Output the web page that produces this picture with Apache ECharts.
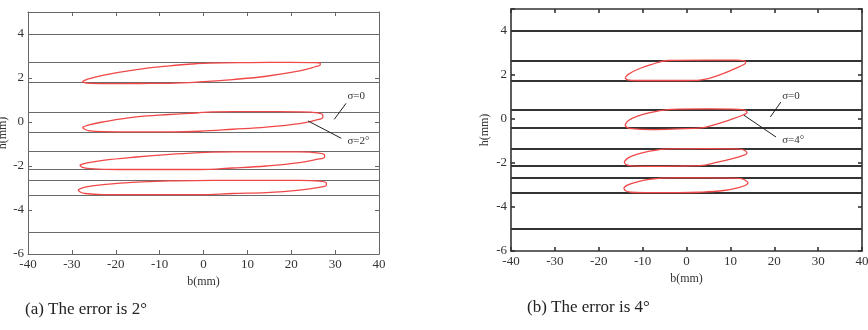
<!DOCTYPE html>
<html>
<head>
<meta charset="utf-8">
<script src="https://cdn.jsdelivr.net/npm/echarts@6/dist/echarts.min.js"></script>
<style>
  html, body { margin: 0; padding: 0; background: #fff; }
  #container { width: 868px; height: 330px; }
</style>
</head>
<body>
<div id="container"></div>
<script>
// x / y tick values
var xTicks = [-40, -30, -20, -10, 0, 10, 20, 30, 40];
var yTicks = [-6, -4, -2, 0, 2, 4];

// ideal tooth lines (sigma = 0)
var linesA = [4, 2.7, 1.8, 0.45, -0.45, -1.35, -2.15, -2.65, -3.35, -5];
var linesB = [4, 2.67, 1.75, 0.44, -0.41, -1.35, -2.14, -2.68, -3.35, -5];

// closed contours (a), error 2 deg
var ellA1 = [[-27.6,1.84],[-27.2,1.79],[-25.9,1.76],[-21,1.74],[-14.6,1.75],[-7.7,1.76],[-0.9,1.82],[6.7,1.93],[14.3,2.08],[21.9,2.32],[25.3,2.5],[26.6,2.6],[26.6,2.67],[25.3,2.7],[19.6,2.71],[10.5,2.7],[1.4,2.68],[-1.6,2.65],[-7.7,2.55],[-15.3,2.38],[-23,2.12],[-26.4,1.95],[-27.6,1.84]];
var ellA2 = [[-27.6,-0.24],[-27.1,-0.33],[-26,-0.4],[-23,-0.44],[-15,-0.45],[-7,-0.45],[-0.9,-0.42],[6.7,-0.33],[14.3,-0.23],[21.9,-0.07],[25.5,0.08],[27.2,0.2],[27.2,0.3],[26,0.41],[22,0.46],[12,0.47],[2,0.46],[-1.6,0.41],[-7.7,0.34],[-15.3,0.23],[-23,0],[-26.3,-0.14],[-27.6,-0.24]];
var ellA3 = [[-28.2,-1.96],[-27.7,-2.05],[-26.5,-2.11],[-23,-2.15],[-15,-2.16],[-7,-2.16],[-0.9,-2.16],[6.7,-2.09],[14.3,-2],[21.9,-1.85],[25.8,-1.7],[27.6,-1.6],[27.6,-1.5],[26.3,-1.41],[22,-1.36],[12,-1.36],[2,-1.37],[-0.9,-1.39],[-7.7,-1.47],[-15.3,-1.59],[-22.9,-1.74],[-26.8,-1.87],[-28.2,-1.96]];
var ellA4 = [[-28.6,-3.08],[-28.1,-3.18],[-27,-3.25],[-23,-3.3],[-15,-3.3],[-7,-3.3],[-0.9,-3.3],[6.7,-3.25],[14.3,-3.21],[21.9,-3.1],[26,-2.98],[28,-2.88],[28,-2.78],[26.5,-2.69],[22,-2.65],[12,-2.65],[2,-2.65],[-7.7,-2.68],[-15.3,-2.73],[-22.9,-2.85],[-27,-2.96],[-28.6,-3.08]];

// closed contours (b), error 4 deg
var ellB1 = [[-14,1.88],[-13.6,1.79],[-12.6,1.76],[-10,1.75],[-4,1.75],[2.5,1.76],[5,1.84],[7.1,1.97],[10,2.2],[12.6,2.43],[13.5,2.56],[13.2,2.64],[11.3,2.68],[5,2.68],[-4.3,2.66],[-8.1,2.47],[-11.2,2.25],[-13.2,2.04],[-14,1.88]];
var ellB2 = [[-14,-0.27],[-13.6,-0.38],[-12.4,-0.44],[-8.1,-0.48],[-2,-0.45],[3.5,-0.4],[7.1,-0.22],[10,-0.03],[12.6,0.16],[13.8,0.3],[13.2,0.4],[11.9,0.44],[5,0.46],[-3.3,0.44],[-8.1,0.3],[-11.2,0.13],[-13.3,-0.08],[-14,-0.27]];
var ellB3 = [[-14.2,-1.96],[-13.8,-2.07],[-12.6,-2.13],[-8,-2.15],[-2,-2.14],[3,-2.12],[7.1,-1.96],[10.5,-1.8],[12.8,-1.66],[13.8,-1.56],[13.3,-1.43],[12,-1.37],[5,-1.35],[-4.3,-1.36],[-8.1,-1.45],[-11.2,-1.6],[-13.4,-1.78],[-14.2,-1.96]];
var ellB4 = [[-14.3,-3.14],[-13.9,-3.26],[-12.6,-3.33],[-8,-3.35],[-2,-3.35],[3,-3.33],[8.5,-3.25],[11.8,-3.12],[13.6,-3.0],[14,-2.9],[13.2,-2.76],[12,-2.7],[5,-2.68],[-3,-2.68],[-8.5,-2.74],[-11.6,-2.88],[-13.6,-3.02],[-14.3,-3.14]];

// annotation arrows: text position, arrow start, arrow end
var noteA0 = {text: 'σ=0', at: [32.8, 1.17], from: [32.5, 0.85], to: [29.8, 0.12]};
var noteA1 = {text: 'σ=2°', at: [32.8, -0.86], from: [31.4, -0.74], to: [23.8, 0.05]};
var noteB0 = {text: 'σ=0', at: [21.8, 1.03], from: [21.5, 0.77], to: [19.1, 0.09]};
var noteB1 = {text: 'σ=4°', at: [21.8, -0.97], from: [20.4, -0.82], to: [13.1, 0.17]};

var captions = ['(a) The error is 2°', '(b) The error is 4°'];

var serif = 'Liberation Serif';
var dom = document.getElementById('container');
var myChart = echarts.init(dom, null, {renderer: 'canvas'});

function makeAxes(gi, col, w) {
  var x = [
    {
      type: 'value', gridIndex: gi, min: xTicks[0], max: xTicks[xTicks.length - 1], interval: 10,
      name: 'b(mm)', nameLocation: 'middle', nameGap: 19,
      nameTextStyle: {fontFamily: serif, fontSize: 12, color: '#333'},
      axisLine: {show: true, onZero: false, lineStyle: {color: col, width: w}},
      axisTick: {show: true, inside: true, length: 4, lineStyle: {color: col, width: w}},
      axisLabel: {fontFamily: serif, fontSize: 13, color: '#333', margin: 4},
      splitLine: {show: false}
    },
    {
      type: 'value', gridIndex: gi, position: 'top', min: -40, max: 40, interval: 10,
      axisLine: {show: true, onZero: false, lineStyle: {color: col, width: w}},
      axisTick: {show: true, inside: true, length: 4, lineStyle: {color: col, width: w}},
      axisLabel: {show: false},
      splitLine: {show: false}
    }
  ];
  var y = [
    {
      type: 'value', gridIndex: gi, min: yTicks[0], max: 5, interval: 2,
      name: 'h(mm)', nameLocation: 'middle', nameGap: gi === 0 ? 18 : 20,
      nameTextStyle: {fontFamily: serif, fontSize: 12, color: '#333'},
      axisLine: {show: true, onZero: false, lineStyle: {color: col, width: w}},
      axisTick: {show: true, inside: true, length: 4, lineStyle: {color: col, width: w}},
      axisLabel: {fontFamily: serif, fontSize: 13, color: '#333', margin: 4,
        formatter: function (v) { return v > 4 ? '' : v; }},
      splitLine: {show: false}
    },
    {
      type: 'value', gridIndex: gi, position: 'right', min: -6, max: 5, interval: 2,
      axisLine: {show: true, onZero: false, lineStyle: {color: col, width: w}},
      axisTick: {show: true, inside: true, length: 4, lineStyle: {color: col, width: w}},
      axisLabel: {show: false},
      splitLine: {show: false}
    }
  ];
  return {x: x, y: y};
}

function lineSeries(gi, lines, col, w) {
  return {
    type: 'line', xAxisIndex: gi * 2, yAxisIndex: gi * 2, data: [], silent: true, z: 1,
    markLine: {
      silent: true, symbol: ['none', 'none'], animation: false, z: 1,
      label: {show: false},
      lineStyle: {type: 'solid', color: col, width: w},
      data: lines.map(function (v) { return {yAxis: v}; })
    }
  };
}

function ellSeries(gi, pts) {
  return {
    type: 'line', xAxisIndex: gi * 2, yAxisIndex: gi * 2, data: pts, z: 6,
    smooth: 0.4, showSymbol: false, silent: true,
    lineStyle: {color: '#f04848', width: 1.3}
  };
}

function noteSeries(gi, notes) {
  return {
    type: 'line', xAxisIndex: gi * 2, yAxisIndex: gi * 2, data: [], z: 7, silent: true,
    markLine: {
      silent: true, animation: false, symbolSize: [0, 7], z: 7,
      label: {show: false},
      lineStyle: {type: 'solid', color: '#222', width: 1},
      data: notes.map(function (n) {
        return [{coord: n.from, symbol: 'none'}, {coord: n.to, symbol: 'arrow'}];
      })
    },
    markPoint: {
      silent: true, animation: false, symbol: 'circle', symbolSize: 0, z: 7,
      label: {show: true, position: 'right', distance: 0, fontFamily: serif, fontSize: 11, color: '#333',
        formatter: function (p) { return p.name; }},
      data: notes.map(function (n) { return {name: n.text, coord: n.at}; })
    }
  };
}

var axA = makeAxes(0, '#666', 1);
var axB = makeAxes(1, '#333', 1.6);

var option = {
  backgroundColor: '#fff',
  animation: false,
  grid: [
    {left: 28, top: 12, width: 351, height: 242, outerBoundsMode: 'none', containLabel: false},
    {left: 511, top: 9, width: 351, height: 242, outerBoundsMode: 'none', containLabel: false}
  ],
  xAxis: axA.x.concat(axB.x),
  yAxis: axA.y.concat(axB.y),
  graphic: [
    {type: 'text', left: 25, top: 301, style: {text: captions[0], font: '17px "Liberation Serif"', fill: '#222'}},
    {type: 'text', left: 527, top: 299, style: {text: captions[1], font: '17px "Liberation Serif"', fill: '#222'}}
  ],
  series: [
    lineSeries(0, linesA, '#6a6a6a', 1.2),
    ellSeries(0, ellA1), ellSeries(0, ellA2), ellSeries(0, ellA3), ellSeries(0, ellA4),
    noteSeries(0, [noteA0, noteA1]),
    lineSeries(1, linesB, '#333', 1.8),
    ellSeries(1, ellB1), ellSeries(1, ellB2), ellSeries(1, ellB3), ellSeries(1, ellB4),
    noteSeries(1, [noteB0, noteB1])
  ]
};
myChart.setOption(option);
</script>
</body>
</html>
